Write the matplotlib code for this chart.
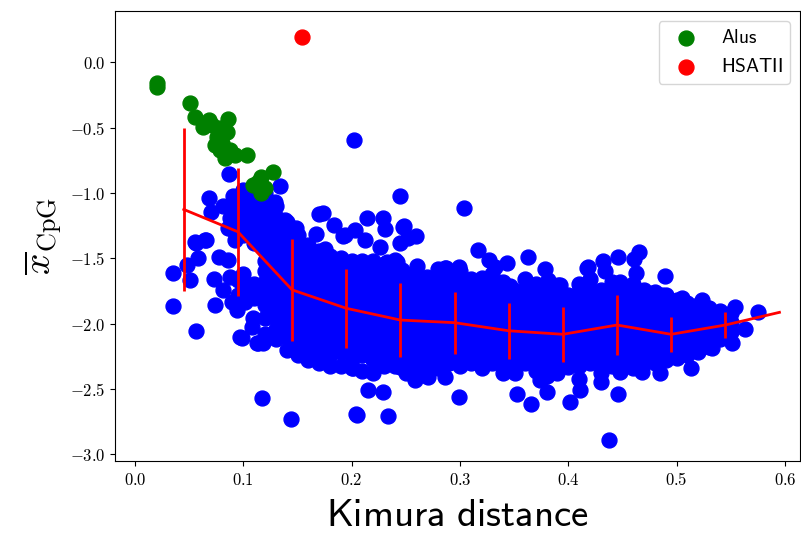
import matplotlib
matplotlib.use("Agg")
import matplotlib.pyplot as plt
from matplotlib.ticker import FuncFormatter
import numpy as np

plt.rcParams['mathtext.fontset'] = 'cm'

# Alus (green)
alus_x = [0.020, 0.0206, 0.0508, 0.0554, 0.0686, 0.0861, 0.0625, 0.0785, 0.0846, 0.0754,
          0.0738, 0.080, 0.0785, 0.0831, 0.0923, 0.1031, 0.1277, 0.116, 0.1087, 0.116,
          0.0711, 0.0877, 0.1136, 0.120]
alus_y = [-0.156, -0.191, -0.309, -0.421, -0.441, -0.436, -0.497, -0.505, -0.531, -0.569,
          -0.633, -0.620, -0.671, -0.735, -0.709, -0.709, -0.837, -0.875, -0.939, -0.998,
          -0.480, -0.671, -0.917, -0.963]

# HSATII (red)
hsat_x = [0.1545]
hsat_y = [0.191]

# binned mean +- std
bin_x = [0.045, 0.095, 0.145, 0.195, 0.245, 0.295, 0.345, 0.395, 0.445, 0.495, 0.545, 0.595]
bin_mean = [-1.126, -1.297, -1.741, -1.882, -1.972, -1.992, -2.054, -2.081, -2.010, -2.081, -2.010, -1.913]
bin_err = [0.62, 0.49, 0.39, 0.30, 0.28, 0.237, 0.215, 0.21, 0.226, 0.134, 0.10, 0.0]

# dense core of the other repeats, read column by column
core_cols = [0.09, 0.10, 0.11, 0.12, 0.13, 0.14, 0.15, 0.16, 0.17, 0.18, 0.19, 0.20,
             0.21, 0.22, 0.23, 0.24, 0.25, 0.26, 0.27, 0.28, 0.29, 0.30, 0.31, 0.32,
             0.33, 0.34, 0.35, 0.36, 0.37, 0.38, 0.39, 0.40, 0.41, 0.42, 0.43, 0.44,
             0.45, 0.46, 0.47, 0.48, 0.49, 0.50, 0.51, 0.52, 0.53, 0.54, 0.55]
core_ys = [
    [-1.02, -1.10, -1.19, -1.28],
    [-0.98, -1.06, -1.14, -1.23, -1.32, -1.62, -1.72],
    [-0.96, -1.04, -1.12, -1.20, -1.29, -1.38, -1.70, -1.80],
    [-1.00, -1.08, -1.16, -1.25, -1.34, -1.43, -1.52, -1.60, -1.68, -1.77, -1.86, -1.96, -2.08],
    [-1.10, -1.18, -1.27, -1.36, -1.45, -1.54, -1.63, -1.72, -1.80, -1.88, -1.96, -2.04, -2.12],
    [-1.22, -1.30, -1.38, -1.47, -1.56, -1.65, -1.74, -1.83, -1.92, -2.01, -2.10, -2.20],
    [-1.32, -1.40, -1.49, -1.58, -1.67, -1.76, -1.84, -1.92, -2.00, -2.08, -2.16, -2.24],
    [-1.40, -1.48, -1.56, -1.65, -1.74, -1.83, -1.92, -2.01, -2.10, -2.19, -2.28],
    [-1.44, -1.52, -1.61, -1.70, -1.78, -1.87, -1.96, -2.05, -2.13, -2.22, -2.30],
    [-1.48, -1.56, -1.65, -1.74, -1.83, -1.92, -2.00, -2.08, -2.16, -2.24, -2.32],
    [-1.50, -1.59, -1.68, -1.77, -1.86, -1.95, -2.04, -2.13, -2.22, -2.32],
    [-1.52, -1.60, -1.68, -1.76, -1.84, -1.92, -2.01, -2.10, -2.18, -2.26, -2.34],
    [-1.52, -1.61, -1.70, -1.79, -1.88, -1.97, -2.06, -2.15, -2.24, -2.36],
    [-1.52, -1.60, -1.68, -1.76, -1.84, -1.93, -2.02, -2.11, -2.20, -2.28, -2.38],
    [-1.54, -1.63, -1.72, -1.80, -1.88, -1.97, -2.06, -2.15, -2.24, -2.32],
    [-1.56, -1.64, -1.72, -1.81, -1.90, -1.99, -2.08, -2.17, -2.26, -2.32],
    [-1.62, -1.70, -1.78, -1.86, -1.94, -2.03, -2.12, -2.21, -2.30, -2.38],
    [-1.56, -1.64, -1.72, -1.80, -1.88, -1.96, -2.04, -2.12, -2.20, -2.28, -2.36],
    [-1.64, -1.72, -1.80, -1.88, -1.96, -2.05, -2.14, -2.22, -2.30, -2.40],
    [-1.58, -1.66, -1.74, -1.82, -1.91, -2.00, -2.09, -2.18, -2.27, -2.34],
    [-1.66, -1.74, -1.82, -1.90, -1.98, -2.06, -2.14, -2.22, -2.30],
    [-1.60, -1.68, -1.76, -1.84, -1.92, -2.00, -2.08, -2.16, -2.24, -2.32],
    [-1.66, -1.74, -1.82, -1.90, -1.98, -2.07, -2.16, -2.24, -2.30],
    [-1.70, -1.78, -1.86, -1.94, -2.02, -2.10, -2.18, -2.26, -2.34],
    [-1.62, -1.71, -1.80, -1.89, -1.98, -2.07, -2.16, -2.25, -2.30],
    [-1.68, -1.76, -1.84, -1.92, -2.00, -2.08, -2.16, -2.24, -2.32, -2.38],
    [-1.74, -1.82, -1.90, -1.98, -2.07, -2.16, -2.24, -2.32],
    [-1.66, -1.74, -1.82, -1.90, -1.98, -2.06, -2.14, -2.22, -2.30],
    [-1.70, -1.78, -1.86, -1.94, -2.02, -2.11, -2.20, -2.28, -2.36],
    [-1.76, -1.84, -1.92, -2.00, -2.08, -2.16, -2.24, -2.32, -2.40],
    [-1.72, -1.80, -1.88, -1.97, -2.06, -2.15, -2.24, -2.32, -2.38],
    [-1.78, -1.86, -1.94, -2.02, -2.10, -2.18, -2.26, -2.33],
    [-1.70, -1.79, -1.88, -1.97, -2.06, -2.15, -2.24, -2.32, -2.42],
    [-1.66, -1.74, -1.82, -1.90, -1.98, -2.06, -2.14, -2.22, -2.30],
    [-1.74, -1.82, -1.90, -1.98, -2.06, -2.14, -2.22, -2.30, -2.38],
    [-1.68, -1.76, -1.84, -1.92, -2.00, -2.08, -2.16, -2.24, -2.32],
    [-1.72, -1.80, -1.88, -1.96, -2.04, -2.13, -2.22, -2.30],
    [-1.70, -1.78, -1.86, -1.94, -2.02, -2.10, -2.18, -2.26, -2.34],
    [-1.74, -1.83, -1.92, -2.01, -2.10, -2.19, -2.30],
    [-1.76, -1.84, -1.92, -2.00, -2.08, -2.16, -2.23, -2.30],
    [-1.78, -1.87, -1.96, -2.05, -2.14, -2.22, -2.28],
    [-1.82, -1.90, -1.98, -2.06, -2.14, -2.20, -2.26],
    [-1.84, -1.93, -2.02, -2.11, -2.18, -2.24],
    [-1.86, -1.94, -2.02, -2.10, -2.16, -2.22],
    [-1.88, -1.97, -2.06, -2.12, -2.18],
    [-1.90, -1.98, -2.05, -2.12],
    [-1.92, -1.99, -2.06],
]

# scattered points around the core
left_x = [0.0348, 0.0348, 0.0477, 0.0508, 0.0563, 0.0653, 0.0585, 0.056, 0.0729, 0.0815,
          0.0741, 0.0775, 0.0861, 0.0877, 0.0923, 0.0877, 0.0861, 0.0683, 0.0815, 0.0699,
          0.087, 0.0554, 0.0646, 0.0892, 0.0938, 0.1015, 0.0954, 0.0954, 0.1092, 0.0985,
          0.1123, 0.1185, 0.1077, 0.1092, 0.0969, 0.1138, 0.1338, 0.129, 0.118, 0.1015]
left_y = [-1.610, -1.865, -1.551, -1.666, -1.385, -1.360, -1.500, -2.054, -1.660, -1.742,
          -1.857, -1.492, -1.513, -1.640, -1.360, -1.194, -1.270, -1.036, -1.099, -1.148,
          -0.857, -1.373, -1.360, -1.832, -1.895, -1.832, -1.666, -1.780, -1.742, -2.112,
          -2.150, -2.150, -2.023, -1.959, -2.100, -2.150, -0.944, -1.066, -1.232, -1.308]

upper_x = [0.1738, 0.170, 0.1837, 0.167, 0.192, 0.203, 0.1754, 0.149, 0.137, 0.1938,
           0.2145, 0.229, 0.2308, 0.2123, 0.226, 0.2477, 0.2446, 0.2323, 0.240, 0.2462,
           0.2446, 0.2025, 0.304, 0.2486, 0.2594, 0.2523, 0.2415, 0.317, 0.3268, 0.3323,
           0.3437, 0.3625, 0.3785, 0.3815, 0.3908, 0.417, 0.4108, 0.287, 0.2994, 0.320,
           0.3462, 0.3046, 0.2862, 0.1385, 0.4655, 0.4606, 0.4462, 0.4317, 0.4185, 0.434,
           0.4625, 0.4892, 0.3923, 0.4477, 0.4785, 0.4862, 0.5046, 0.5231, 0.5277, 0.500,
           0.5538, 0.5754, 0.5631, 0.5462]
upper_y = [-1.151, -1.161, -1.245, -1.314, -1.329, -1.283, -1.431, -1.270, -1.232, -1.321,
           -1.194, -1.194, -1.278, -1.360, -1.411, -1.258, -1.380, -1.526, -1.513, -1.589,
           -1.023, -0.594, -1.112, -1.252, -1.329, -1.347, -1.526, -1.436, -1.513, -1.569,
           -1.538, -1.487, -1.584, -1.666, -1.704, -1.576, -1.729, -1.576, -1.569, -1.653,
           -1.712, -1.691, -1.576, -1.207, -1.449, -1.507, -1.492, -1.518, -1.569, -1.595,
           -1.615, -1.635, -1.704, -1.679, -1.767, -1.781, -1.806, -1.819, -1.882, -1.832,
           -1.870, -1.908, -2.043, -1.946]

lower_x = [0.1169, 0.144, 0.2037, 0.2154, 0.2286, 0.2052, 0.2338, 0.2994, 0.2585, 0.2708,
           0.2862, 0.3523, 0.3653, 0.3508, 0.380, 0.4015, 0.3738, 0.4108, 0.2446, 0.2015,
           0.3775, 0.430, 0.4462, 0.4378, 0.4477, 0.5508, 0.5323, 0.5133, 0.4846, 0.4677,
           0.2892]
lower_y = [-2.571, -2.731, -2.693, -2.507, -2.520, -2.699, -2.704, -2.559, -2.431, -2.406,
           -2.406, -2.540, -2.614, -2.375, -2.520, -2.597, -2.431, -2.507, -2.329, -2.341,
           -2.406, -2.444, -2.538, -2.890, -2.367, -2.150, -2.188, -2.341, -2.379, -2.367,
           -2.298]

core_x = []
core_y = []
for cx, ys in zip(core_cols, core_ys):
    core_x += [cx] * len(ys)
    core_y += ys

other_x = np.array(core_x + left_x + upper_x + lower_x)
other_y = np.array(core_y + left_y + upper_y + lower_y)

fig = plt.figure(figsize=(8.01, 5.37), dpi=100)
ax = fig.add_axes([0.1436, 0.1406, 0.8552, 0.839])

ax.scatter(other_x, other_y, s=115, color='b', zorder=1)
ax.errorbar(bin_x, bin_mean, yerr=bin_err, color='r', lw=2, elinewidth=2, capsize=0, zorder=2)
ax.scatter(alus_x, alus_y, s=115, color='green', label=r'$\mathsf{Alus}$', zorder=3)
ax.scatter(hsat_x, hsat_y, s=115, color='red', label=r'$\mathsf{HSATII}$', zorder=3)

ax.set_xlim(-0.0185, 0.614)
ax.set_ylim(-3.054, 0.3925)
ax.set_xticks([0.0, 0.1, 0.2, 0.3, 0.4, 0.5, 0.6])
ax.set_yticks([0.0, -0.5, -1.0, -1.5, -2.0, -2.5, -3.0])
fmt = FuncFormatter(lambda v, p: r'$%.1f$' % v)
ax.xaxis.set_major_formatter(fmt)
ax.yaxis.set_major_formatter(fmt)
ax.tick_params(labelsize=12)

ax.set_xlabel(r'$\mathsf{Kimura\ distance}$', fontsize=28, labelpad=5)
ax.set_ylabel(r'$\overline{x}_{\rm CpG}$', fontsize=27)
ax.legend(loc='upper right', fontsize=14)

fig.savefig('out.png', dpi=100)
